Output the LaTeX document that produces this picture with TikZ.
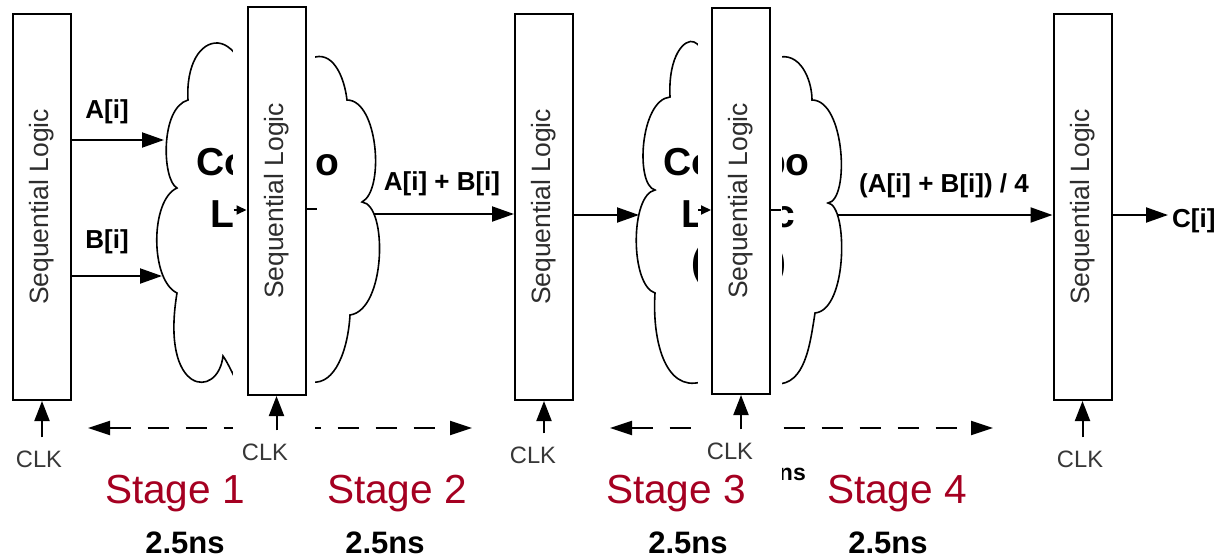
\documentclass[tikz,border=0pt]{standalone}
\usepackage{fontspec}
\setmainfont{Liberation Sans}
\usetikzlibrary{arrows.meta,calc}

\definecolor{stagered}{RGB}{165,0,33}
\definecolor{reggray}{RGB}{45,45,45}
\definecolor{clkgray}{RGB}{55,55,55}

\tikzset{
  seqreg/.style={draw, fill=white, line width=2pt, minimum width=58pt,
    minimum height=386pt, inner sep=0pt,
    label={[rotate=90, text=reggray, font=\fontsize{26.5}{30}\selectfont]center:Sequential Logic}},
  combo/.style={line width=1.6pt},
  combotext/.style={font=\bfseries\fontsize{39}{44}\selectfont, inner sep=0pt},
  sig/.style={line width=2pt, -{Triangle[length=22pt, width=15pt]}},
  clkarrow/.style={line width=2pt, -{Triangle[length=20pt, width=15pt]}},
  stub/.style={line width=2pt},
  stubarrow/.style={line width=2pt, -{Triangle[length=10pt, width=9pt]}},
  sigtext/.style={font=\bfseries\fontsize{26}{30}\selectfont, inner sep=0pt, anchor=base},
  clktext/.style={font=\fontsize{23.7}{28}\selectfont, text=clkgray, inner sep=0pt, anchor=base},
  timing/.style={line width=2pt, dash pattern=on 21pt off 17pt,
    {Triangle[length=22pt, width=14pt]}-{Triangle[length=22pt, width=14pt]}},
  stagetext/.style={font=\fontsize{40.6}{48}\selectfont, text=stagered, inner sep=0pt, anchor=base},
  delaytext/.style={font=\bfseries\fontsize{31}{36}\selectfont, inner sep=0pt, anchor=base},
}

\begin{document}
\begin{tikzpicture}[x=1pt, y=-1pt]
  \useasboundingbox (0,0) rectangle (1222,559);

  % First combo logic cloud
  \draw[combo] (236,380)
    .. controls (230,368) and (226,360) .. (223,356)
    .. controls (218,400) and (160,395) .. (177,293)
    .. controls (150,280) and (150,200) .. (177,188)
    .. controls (162,180) and (160,108) .. (188,100)
    .. controls (186,65) and (200,42) .. (218,43)
    .. controls (228,44) and (234,52) .. (240,60)
    -- (312,58)
    .. controls (332,50) and (344,75) .. (347,100)
    .. controls (378,100) and (385,190) .. (362,202)
    .. controls (388,205) and (386,310) .. (350,315)
    .. controls (348,350) and (335,385) .. (312,382)
    -- cycle;

  % Second combo logic cloud
  \draw[combo] (701,382)
    .. controls (665,392) and (652,340) .. (655,293)
    .. controls (630,285) and (630,195) .. (655,190)
    .. controls (635,185) and (640,100) .. (670,97)
    .. controls (668,55) and (685,38) .. (694,42)
    .. controls (698,44) and (701,47) .. (704,52)
    -- (776,58)
    .. controls (800,50) and (812,80) .. (812,100)
    .. controls (845,100) and (850,200) .. (828,203)
    .. controls (848,205) and (848,310) .. (815,313)
    .. controls (810,345) and (805,385) .. (776,384)
    -- cycle;

  % Cloud lettering (split by the inserted registers)
  \node[combotext, anchor=base west] (c1co) at (196,175) {Co};
  \node[combotext, anchor=base east] (c1o) at (340,175) {o};
  \node[combotext, anchor=base west] (c1l) at (210,227) {L};
  \node[combotext, anchor=base west] (c2co) at (663,175) {Co};
  \node[combotext, anchor=base east] (c2bo) at (810,175) {bo};
  \node[combotext, anchor=base west] (c2l) at (681,227) {L};
  \node[combotext, anchor=base east] (c2c) at (795,227) {c};
  \node[combotext, anchor=base west] (c2lp) at (691,275) {(};
  \node[combotext, anchor=base east] (c2rp) at (787,275) {)};

  % Cloud edge points
  \coordinate (c1a) at (164,140);
  \coordinate (c1b) at (162,276);
  \coordinate (c1out) at (374,214);
  \coordinate (c2in) at (639,215);
  \coordinate (c2out) at (837,215);
  \coordinate (c5o) at (1168,215);

  % Timing spans
  \coordinate (t1l) at (88,428);
  \coordinate (t1r) at (472,428);
  \coordinate (t2l) at (610,428);
  \coordinate (t2r) at (993,428);
  \draw[timing] (t1l) -- (t1r);
  \draw[timing] (t2l) -- (t2r);
  \node[font=\bfseries\fontsize{23}{27}\selectfont, inner sep=0pt, anchor=base east] (nsfrag) at (806,480) {ns};

  % Blank bands under the extra registers
  \fill[white] (233,0) rectangle (315,486);
  \fill[white] (698,0) rectangle (782,486);

  % Pipeline registers
  \node[seqreg] (r1) at (42,207) {};
  \node[seqreg, minimum height=388pt] (r2) at (276.5,201) {};
  \node[seqreg] (r3) at (544,207) {};
  \node[seqreg] (r4) at (741,201) {};
  \node[seqreg] (r5) at (1082.5,207) {};

  % Data paths
  \draw[sig] (r1.east |- c1a) -- (c1a);
  \draw[sig] (r1.east |- c1b) -- (c1b);
  \draw[sig] (c1out) -- (c1out -| r3.west);
  \draw[sig] (r3.east |- c2in) -- (c2in);
  \draw[sig] (c2out) -- (c2out -| r5.west);
  \draw[sig] (r5.east |- c5o) -- (c5o);

  \node[sigtext] (lblA) at (107,118) {A[i]};
  \node[sigtext] (lblB) at (107,248) {B[i]};
  \node[sigtext] (lblsum) at (442,190) {A[i] + B[i]};
  \node[sigtext] (lbldiv) at (944,192) {(A[i] + B[i]) / 4};
  \node[sigtext, anchor=base west] (lblC) at (1172,227) {C[i]};

  % Stubs left inside the clouds
  \draw[stubarrow] ([xshift=-13pt, yshift=-9pt]r2.west) -- ([yshift=-9pt]r2.west);
  \draw[stub] ([yshift=-8pt]r2.east) -- ([xshift=10pt, yshift=-8pt]r2.east);
  \draw[stubarrow] ([xshift=-13pt, yshift=-9pt]r4.west) -- ([yshift=-9pt]r4.west);
  \draw[stub] ([yshift=-9pt]r4.east) -- ([xshift=10pt, yshift=-9pt]r4.east);

  % Clock inputs
  \node[clktext] (clk1) at (39,467) {CLK};
  \node[clktext] (clk2) at (265,460) {CLK};
  \node[clktext] (clk3) at (533,463) {CLK};
  \node[clktext] (clk4) at (730,459) {CLK};
  \node[clktext] (clk5) at (1080,467) {CLK};
  \draw[clkarrow, shorten <=13pt] (r1.south |- clk1.north) -- (r1.south);
  \draw[clkarrow, shorten <=13pt] (r2.south |- clk2.north) -- (r2.south);
  \draw[clkarrow, shorten <=13pt] (r3.south |- clk3.north) -- (r3.south);
  \draw[clkarrow, shorten <=13pt] (r4.south |- clk4.north) -- (r4.south);
  \draw[clkarrow, shorten <=13pt] (r5.south |- clk5.north) -- (r5.south);

  % Stage names and delays
  \node[stagetext] (st1) at (175,503) {Stage 1};
  \node[stagetext] (st2) at (397,503) {Stage 2};
  \node[stagetext] (st3) at (676,503) {Stage 3};
  \node[stagetext] (st4) at (897,503) {Stage 4};
  \node[delaytext] (d1) at (185,553) {2.5ns};
  \node[delaytext] (d2) at (385,553) {2.5ns};
  \node[delaytext] (d3) at (688,553) {2.5ns};
  \node[delaytext] (d4) at (888,553) {2.5ns};
\end{tikzpicture}
\end{document}
